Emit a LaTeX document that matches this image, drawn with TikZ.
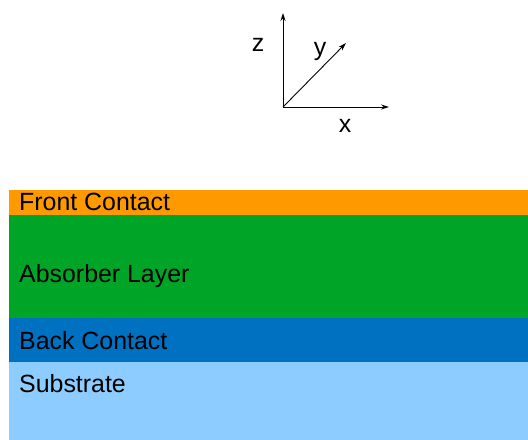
\documentclass[tikz,border=0pt]{standalone}
\usepackage{fontspec}
\setmainfont{Liberation Sans}
\usetikzlibrary{arrows.meta}
\definecolor{frontc}{HTML}{FF9900}
\definecolor{absorb}{HTML}{00A528}
\definecolor{backc}{HTML}{0070C0}
\definecolor{subst}{HTML}{8CCCFF}
\begin{document}
\begin{tikzpicture}[x=1bp,y=-1bp,
  layertext/.style={anchor=base west, inner sep=0pt, font=\fontsize{25}{29}\selectfont},
  axislabel/.style={inner sep=0pt, font=\fontsize{25}{29}\selectfont},
  axis/.style={line width=0.9bp, -{Stealth[length=8bp,width=5bp]}}]
\useasboundingbox (0,0) rectangle (528,440);
\fill[white] (0,0) rectangle (528,440);
% layers
\fill[frontc] (9,190.5) rectangle (528,215);
\fill[absorb] (9,215) rectangle (528,318);
\fill[backc] (9,318) rectangle (528,362);
\fill[subst] (9,362) rectangle (528,440);
\node[layertext] (tf) at (19,211) {Front Contact};
\node[layertext] (ta) at (19,282) {Absorber Layer};
\node[layertext] (tb) at (19,349) {Back Contact};
\node[layertext] (ts) at (19,392) {Substrate};
% axes
\coordinate (o) at (283,107);
\coordinate (zt) at (283,13);
\coordinate (xt) at (389,107);
\coordinate (yt) at (346,43);
\draw[axis] (o) -- (zt);
\draw[axis] (o) -- (xt);
\draw[axis] (o) -- (yt);
\node[axislabel] (lz) at (258,45) {z};
\node[axislabel] (ly) at (320,52) {y};
\node[axislabel] (lx) at (345,126) {x};
\end{tikzpicture}
\end{document}
